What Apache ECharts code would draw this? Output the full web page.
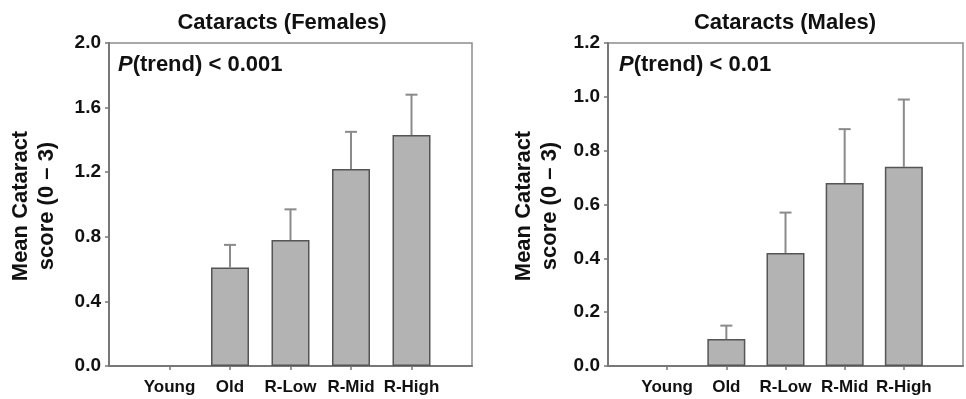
<!DOCTYPE html>
<html>
<head>
<meta charset="utf-8">
<script src="https://cdn.jsdelivr.net/npm/echarts@6/dist/echarts.min.js"></script>
<style>
html,body{margin:0;padding:0;background:#fff;}
#c{width:966px;height:399px;}
</style>
</head>
<body>
<div id="c"></div>
<script>
// ---- data ----
const categories = ['Young', 'Old', 'R-Low', 'R-Mid', 'R-High'];
const femalesMean = [0, 0.61, 0.78, 1.22, 1.43];
const femalesUpper = [0, 0.75, 0.97, 1.45, 1.68];
const malesMean = [0, 0.10, 0.42, 0.68, 0.74];
const malesUpper = [0, 0.15, 0.57, 0.88, 0.99];
const femalesTicks = [0.0, 0.4, 0.8, 1.2, 1.6, 2.0];
const malesTicks = [0.0, 0.2, 0.4, 0.6, 0.8, 1.0, 1.2];
const titles = ['Cataracts (Females)', 'Cataracts (Males)'];
const trendTexts = ['(trend) < 0.001', '(trend) < 0.01'];
const yName = 'Mean Cataract\nscore (0 \u2013 3)';

const FONT = '"Liberation Sans", Arial, Helvetica, sans-serif';
const axisCats = [''].concat(categories).concat(['']);
const barItems = arr => [null].concat(arr.map(v => ({
  value: v, itemStyle: {borderWidth: v > 0 ? 1.5 : 0}
}))).concat([null]);
const errData = (mean, upper) => mean.map((m, i) => [i + 1, m, upper[i]]).filter(d => d[2] > d[1]);

const chart = echarts.init(document.getElementById('c'), null, {renderer: 'canvas'});

function xAxisDef(gi) {
  return {
    type: 'category', gridIndex: gi, data: axisCats, boundaryGap: false,
    axisLine: {show: true, lineStyle: {color: '#777', width: 2}},
    axisTick: {show: true, length: 4, lineStyle: {color: '#777', width: 1.5},
      interval: (idx) => idx > 0 && idx < axisCats.length - 1},
    axisLabel: {interval: 0, margin: 13, color: '#111', fontWeight: 'bold', fontSize: 17, fontFamily: FONT},
    splitLine: {show: false}
  };
}
function yAxisDef(gi, ticks) {
  return {
    type: 'value', gridIndex: gi, min: ticks[0], max: ticks[ticks.length - 1],
    interval: ticks[1] - ticks[0],
    axisLine: {show: true, lineStyle: {color: '#777', width: 2}},
    axisTick: {show: true, length: 4, lineStyle: {color: '#777', width: 1.5}},
    axisLabel: {margin: 8, color: '#111', fontWeight: 'bold', fontSize: 19, fontFamily: FONT,
      formatter: v => v.toFixed(1)},
    splitLine: {show: false}
  };
}
function barSeries(gi, vals) {
  return {
    type: 'bar', xAxisIndex: gi, yAxisIndex: gi, data: barItems(vals), barWidth: 38,
    itemStyle: {color: '#b3b3b3', borderColor: '#555', borderWidth: 1.5},
    z: 2, animation: false
  };
}
function errSeries(gi, mean, upper) {
  return {
    type: 'custom', xAxisIndex: gi, yAxisIndex: gi, data: errData(mean, upper),
    encode: {x: 0, y: [1, 2]}, z: 3, animation: false,
    renderItem: function (params, api) {
      const p0 = api.coord([api.value(0), api.value(1)]);
      const p1 = api.coord([api.value(0), api.value(2)]);
      const st = {stroke: '#8a8a8a', lineWidth: 2};
      return {type: 'group', children: [
        {type: 'line', shape: {x1: p0[0], y1: p0[1], x2: p1[0], y2: p1[1]}, style: st},
        {type: 'line', shape: {x1: p1[0] - 6, y1: p1[1], x2: p1[0] + 6, y2: p1[1]}, style: st}
      ]};
    }
  };
}

const gridBox = {show: true, borderColor: '#8c8c8c', borderWidth: 1.5, backgroundColor: 'transparent'};

function textEl(x, y, text, extra) {
  return {type: 'text', x: x, y: y, silent: true,
    style: Object.assign({text: text, fill: '#111', font: 'bold 22px ' + FONT,
      textAlign: 'center', textVerticalAlign: 'middle'}, extra || {})};
}
function trendEl(x, y, text) {
  return {type: 'text', x: x, y: y, silent: true, style: {
    rich: {i: {fontStyle: 'italic', fontWeight: 'bold', fontSize: 22, fontFamily: FONT, fill: '#111'},
           n: {fontWeight: 'bold', fontSize: 22, fontFamily: FONT, fill: '#111'}},
    text: '{i|P}{n|' + text + '}', textAlign: 'left', textVerticalAlign: 'middle'}};
}

const graphics = [
  textEl(282, 23, titles[0]),
  textEl(785, 23, titles[1]),
  trendEl(118, 65, trendTexts[0]),
  trendEl(619, 65, trendTexts[1]),
  Object.assign(textEl(34, 206, yName, {lineHeight: 26}), {rotation: Math.PI / 2}),
  Object.assign(textEl(537, 206, yName, {lineHeight: 26}), {rotation: Math.PI / 2})
];

chart.setOption({
  backgroundColor: '#fff',
  animation: false,
  grid: [
    Object.assign({left: 109, top: 43, width: 363, height: 323}, gridBox),
    Object.assign({left: 608, top: 43, width: 363, height: 323}, gridBox)
  ],
  xAxis: [xAxisDef(0), xAxisDef(1)],
  yAxis: [yAxisDef(0, femalesTicks), yAxisDef(1, malesTicks)],
  series: [
    barSeries(0, femalesMean), errSeries(0, femalesMean, femalesUpper),
    barSeries(1, malesMean), errSeries(1, malesMean, malesUpper)
  ],
  graphic: graphics
});
</script>
</body>
</html>
